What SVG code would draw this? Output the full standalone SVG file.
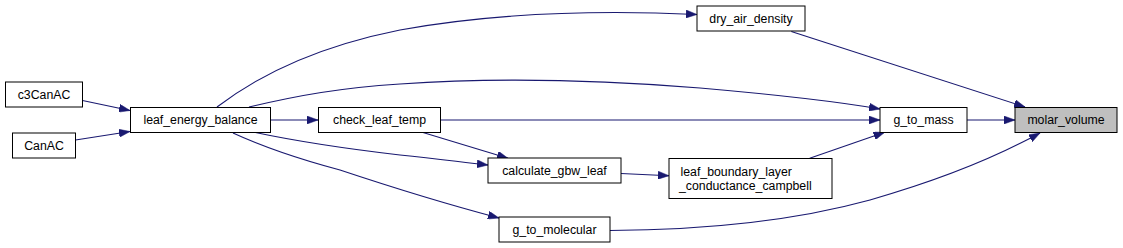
<svg xmlns="http://www.w3.org/2000/svg" width="1123" height="248" viewBox="0 0 1123 248">
<style>
.node rect{fill:#ffffff;stroke:#000000;stroke-width:1}
.node text{font-family:"Liberation Sans",Arial,sans-serif;font-size:12.3px;fill:#000000}
.edge{fill:none;stroke:#191970;stroke-width:1.1}
</style>
<defs>
<marker id="ah" markerUnits="userSpaceOnUse" markerWidth="12" markerHeight="8" refX="11" refY="4" orient="auto">
<path d="M0,0 L11,4 L0,8 z" fill="#191970" stroke="#191970" stroke-width="0.5"/>
</marker>
</defs>
<rect width="1123" height="248" fill="#ffffff"/>
<g id="connectors">
<path class="edge" marker-end="url(#ah)" d="M82.5,100.5 L130,110.5"/>
<path class="edge" marker-end="url(#ah)" d="M75.5,140 L130,131.5"/>
<path class="edge" marker-end="url(#ah)" d="M217,107 C255,78 310,48 400,30 C500,12 600,10 697,14.5"/>
<path class="edge" marker-end="url(#ah)" d="M249,107 C300,95 340,88 400,84 C500,77 600,80 700,88 C780,95 840,102 880,109"/>
<path class="edge" marker-end="url(#ah)" d="M270.5,120 L318,120"/>
<path class="edge" marker-end="url(#ah)" d="M253,132 C300,142 340,148 400,155 C440,159 460,162 488,165"/>
<path class="edge" marker-end="url(#ah)" d="M233,133 C270,150 310,162 340,170 C400,190 450,205 499,218"/>
<path class="edge" marker-end="url(#ah)" d="M423,132.5 L508,158.3"/>
<path class="edge" marker-end="url(#ah)" d="M440.5,120 L880,120"/>
<path class="edge" marker-end="url(#ah)" d="M621,173.5 L669,175.7"/>
<path class="edge" marker-end="url(#ah)" d="M809.7,158.3 L884.7,132.3"/>
<path class="edge" marker-end="url(#ah)" d="M610,230.5 C700,230 790,222 870,200 C940,180 1000,155 1040,133"/>
<path class="edge" marker-end="url(#ah)" d="M791.3,31.5 L1025,107"/>
<path class="edge" marker-end="url(#ah)" d="M967,120 L1015,120"/>
</g>
<g id="node-c3CanAC" class="node"><rect x="5.5" y="82" width="77" height="25"/><text x="44" y="99" text-anchor="middle">c3CanAC</text></g>
<g id="node-CanAC" class="node"><rect x="12.5" y="133" width="63" height="25"/><text x="44" y="149.5" text-anchor="middle">CanAC</text></g>
<g id="node-leaf_energy_balance" class="node"><rect x="130.5" y="107.5" width="140" height="25"/><text x="200.5" y="124" text-anchor="middle">leaf_energy_balance</text></g>
<g id="node-check_leaf_temp" class="node"><rect x="318.5" y="107.5" width="122" height="25"/><text x="379.5" y="124" text-anchor="middle">check_leaf_temp</text></g>
<g id="node-dry_air_density" class="node"><rect x="697" y="6" width="108" height="25"/><text x="751" y="22.5" text-anchor="middle">dry_air_density</text></g>
<g id="node-calculate_gbw_leaf" class="node"><rect x="488" y="158" width="133" height="25"/><text x="554.5" y="174.5" text-anchor="middle">calculate_gbw_leaf</text></g>
<g id="node-leaf_boundary_layer_conductance_campbell" class="node"><rect x="669" y="158.5" width="163" height="40"/><text x="680.5" y="175.5">leaf_boundary_layer</text><text x="679" y="190">_conductance_campbell</text></g>
<g id="node-g_to_molecular" class="node"><rect x="499" y="217" width="111" height="25"/><text x="554.5" y="233.5" text-anchor="middle">g_to_molecular</text></g>
<g id="node-g_to_mass" class="node"><rect x="880" y="107.5" width="87" height="25"/><text x="923.5" y="124" text-anchor="middle">g_to_mass</text></g>
<g id="node-molar_volume" class="node"><rect x="1015" y="107.5" width="102" height="25" style="fill:#bfbfbf"/><text x="1066" y="124" text-anchor="middle">molar_volume</text></g>
</svg>
